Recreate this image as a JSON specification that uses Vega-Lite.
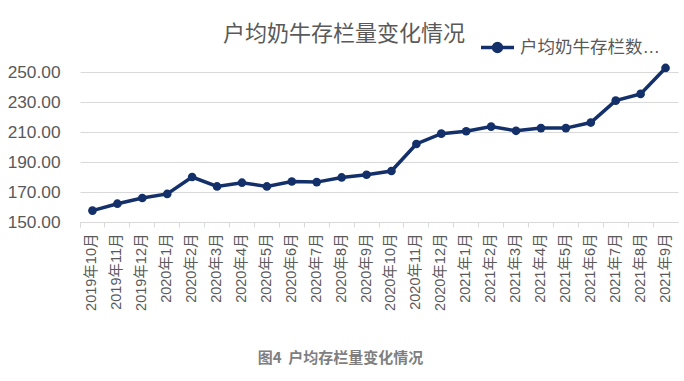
{
  "$schema": "https://vega.github.io/schema/vega-lite/v6.json",
  "autosize": "none",
  "width": 598,
  "height": 150,
  "padding": {"left": 80, "top": 72, "right": 6, "bottom": 159},
  "background": "white",
  "title": {
    "text": "户均奶牛存栏量变化情况",
    "fontSize": 22,
    "fontWeight": "normal",
    "color": "#595959",
    "font": "Liberation Sans, Noto Sans CJK SC",
    "anchor": "middle",
    "dx": -35,
    "offset": -17
  },
  "config": {
    "view": {"stroke": null},
    "font": "Liberation Sans, Noto Sans CJK SC"
  },
  "data": {
    "values": [
      {"month": "2019年10月", "value": 157.6, "series": "户均奶牛存栏数量（头）"},
      {"month": "2019年11月", "value": 162.2, "series": "户均奶牛存栏数量（头）"},
      {"month": "2019年12月", "value": 166.0, "series": "户均奶牛存栏数量（头）"},
      {"month": "2020年1月", "value": 168.7, "series": "户均奶牛存栏数量（头）"},
      {"month": "2020年2月", "value": 180.0, "series": "户均奶牛存栏数量（头）"},
      {"month": "2020年3月", "value": 173.7, "series": "户均奶牛存栏数量（头）"},
      {"month": "2020年4月", "value": 176.2, "series": "户均奶牛存栏数量（头）"},
      {"month": "2020年5月", "value": 173.7, "series": "户均奶牛存栏数量（头）"},
      {"month": "2020年6月", "value": 177.0, "series": "户均奶牛存栏数量（头）"},
      {"month": "2020年7月", "value": 176.6, "series": "户均奶牛存栏数量（头）"},
      {"month": "2020年8月", "value": 179.7, "series": "户均奶牛存栏数量（头）"},
      {"month": "2020年9月", "value": 181.5, "series": "户均奶牛存栏数量（头）"},
      {"month": "2020年10月", "value": 184.0, "series": "户均奶牛存栏数量（头）"},
      {"month": "2020年11月", "value": 202.0, "series": "户均奶牛存栏数量（头）"},
      {"month": "2020年12月", "value": 208.9, "series": "户均奶牛存栏数量（头）"},
      {"month": "2021年1月", "value": 210.5, "series": "户均奶牛存栏数量（头）"},
      {"month": "2021年2月", "value": 213.6, "series": "户均奶牛存栏数量（头）"},
      {"month": "2021年3月", "value": 210.8, "series": "户均奶牛存栏数量（头）"},
      {"month": "2021年4月", "value": 212.6, "series": "户均奶牛存栏数量（头）"},
      {"month": "2021年5月", "value": 212.6, "series": "户均奶牛存栏数量（头）"},
      {"month": "2021年6月", "value": 216.3, "series": "户均奶牛存栏数量（头）"},
      {"month": "2021年7月", "value": 230.9, "series": "户均奶牛存栏数量（头）"},
      {"month": "2021年8月", "value": 235.4, "series": "户均奶牛存栏数量（头）"},
      {"month": "2021年9月", "value": 252.7, "series": "户均奶牛存栏数量（头）"}
    ]
  },
  "mark": {
    "type": "line",
    "strokeWidth": 3.5,
    "clip": false,
    "point": {"size": 75, "filled": true, "opacity": 1}
  },
  "encoding": {
    "x": {
      "field": "month",
      "type": "nominal",
      "sort": null,
      "bandPosition": 0.5,
      "scale": {"type": "band", "paddingInner": 0, "paddingOuter": 0},
      "axis": {
        "title": "图4\u00a0\u00a0户均存栏量变化情况",
        "titleFont": "Noto Sans CJK SC",
        "titleFontSize": 15,
        "titleFontWeight": "bold",
        "titleColor": "#7f7f7f",
        "titleX": 260,
        "titleY": 135,
        "titleBaseline": "middle",
        "titleAnchor": "middle",
        "titleAlign": "center",
        "bandPosition": 0,
        "tickExtra": true,
        "labelAngle": -90,
        "labelAlign": "right",
        "labelBaseline": "middle",
        "labelFontSize": 14.5,
        "labelColor": "#595959",
        "labelPadding": 6,
        "tickSize": 5,
        "tickColor": "#d9d9d9",
        "domainColor": "#d9d9d9",
        "grid": false
      }
    },
    "y": {
      "field": "value",
      "type": "quantitative",
      "scale": {"domain": [150, 250], "nice": false, "zero": false},
      "axis": {
        "title": null,
        "values": [150, 170, 190, 210, 230, 250],
        "format": ".2f",
        "labelFontSize": 17.3,
        "labelColor": "#595959",
        "ticks": false,
        "domain": false,
        "labelPadding": 20,
        "gridColor": "#d9d9d9",
        "gridWidth": 1
      }
    },
    "color": {
      "field": "series",
      "type": "nominal",
      "scale": {"range": ["#14306a"]},
      "legend": {
        "title": null,
        "orient": "none",
        "legendX": 399,
        "legendY": -43,
        "symbolType": "M-1,0H1M0.24,0A0.24,0.24,0,1,1,-0.24,0A0.24,0.24,0,1,1,0.24,0Z",
        "symbolSize": 1089,
        "symbolStrokeWidth": 3.5,
        "symbolFillColor": "#14306a",
        "symbolStrokeColor": "#14306a",
        "labelFontSize": 17.5,
        "labelColor": "#595959",
        "labelLimit": 145,
        "labelOffset": 4,
        "encode": {
          "symbols": {"update": {"fill": {"value": "#14306a"}, "stroke": {"value": "#14306a"}, "opacity": {"value": 1}}}
        }
      }
    }
  }
}
